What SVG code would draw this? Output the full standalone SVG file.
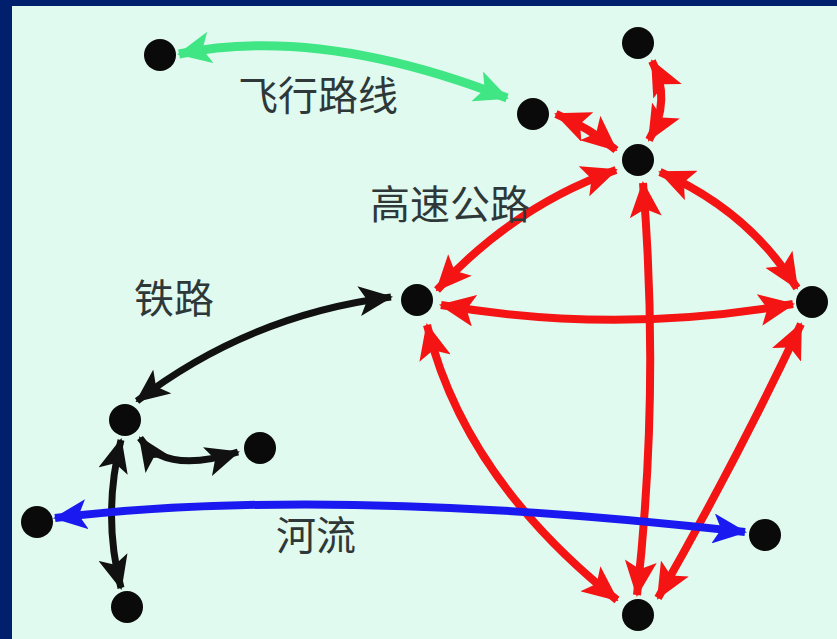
<svg xmlns="http://www.w3.org/2000/svg" width="837" height="639" viewBox="0 0 837 639">
<style>
.n{fill:#0a0a0a}
.e{fill:none}
.r{stroke:#f51414;stroke-width:8;marker-start:url(#ar);marker-end:url(#ar)}
.k{stroke:#111;stroke-width:7;marker-start:url(#ak);marker-end:url(#ak)}
.b{stroke:#1a1af0;stroke-width:8;marker-start:url(#ab);marker-end:url(#ab)}
.g{stroke:#3fe683;stroke-width:9;marker-start:url(#ag);marker-end:url(#ag)}
.t{font-family:"Liberation Serif","Noto Sans CJK SC",serif;font-size:40px;fill:#2f3838}
</style>
<defs>
<marker id="ar" viewBox="0 0 36 32" refX="34" refY="16" markerWidth="36" markerHeight="32" markerUnits="userSpaceOnUse" orient="auto-start-reverse"><path d="M0,0 L36,16 L0,32 L8,16 z" fill="#f51414"/></marker>
<marker id="ak" viewBox="0 0 34 30" refX="32" refY="15" markerWidth="34" markerHeight="30" markerUnits="userSpaceOnUse" orient="auto-start-reverse"><path d="M0,0 L34,15 L0,30 L8,15 z" fill="#111"/></marker>
<marker id="ab" viewBox="0 0 34 30" refX="32" refY="15" markerWidth="34" markerHeight="30" markerUnits="userSpaceOnUse" orient="auto-start-reverse"><path d="M0,0 L34,15 L0,30 L8,15 z" fill="#1a1af0"/></marker>
<marker id="ag" viewBox="0 0 34 32" refX="32" refY="16" markerWidth="34" markerHeight="32" markerUnits="userSpaceOnUse" orient="auto-start-reverse"><path d="M0,0 L34,16 L0,32 L8,16 z" fill="#3fe683"/></marker>
</defs>
<rect x="0" y="0" width="837" height="639" fill="#00206e"/>
<rect x="12" y="6" width="825" height="633" fill="#e0faf0"/>
<g id="connectors">
<path class="e g" d="M179,54 Q320,25 507,98"/>
<path class="e r" d="M556,114 Q590,128 616,150"/>
<path class="e r" d="M652,61 Q672,100 649,140"/>
<path class="e r" d="M616,170 Q514,206 437,290"/>
<path class="e r" d="M660,172 Q748,210 797,288"/>
<path class="e r" d="M441,305 Q617,335 793,304"/>
<path class="e r" d="M643,183 Q660,390 637,595"/>
<path class="e r" d="M427,325 Q464,478 617,600"/>
<path class="e r" d="M801,324 Q738,458 658,598"/>
<path class="e k" d="M391,297 Q249,315 137,401"/>
<path class="e k" d="M140,438 Q165,475 238,452"/>
<path class="e k" d="M121,440 Q102,515 121,588"/>
<path class="e b" d="M55,518 Q330,485 745,532"/>
</g>
<g id="n1"><circle class="n" cx="160" cy="55" r="16"/></g>
<g id="n2"><circle class="n" cx="638" cy="43" r="16"/></g>
<g id="n3"><circle class="n" cx="533" cy="114" r="16"/></g>
<g id="n4"><circle class="n" cx="638" cy="160" r="16"/></g>
<g id="n5"><circle class="n" cx="417" cy="300" r="16"/></g>
<g id="n6"><circle class="n" cx="812" cy="302" r="16"/></g>
<g id="n7"><circle class="n" cx="125" cy="420" r="16"/></g>
<g id="n8"><circle class="n" cx="260" cy="448" r="16"/></g>
<g id="n9"><circle class="n" cx="37" cy="522" r="16"/></g>
<g id="n10"><circle class="n" cx="765" cy="535" r="16"/></g>
<g id="n11"><circle class="n" cx="127" cy="607" r="16"/></g>
<g id="n12"><circle class="n" cx="638" cy="615" r="16"/></g>
<g id="labels">
<text class="t" x="238" y="110">飞行路线</text>
<text class="t" x="370" y="219">高速公路</text>
<text class="t" x="134" y="313">铁路</text>
<text class="t" x="276" y="550">河流</text>
</g>
</svg>
